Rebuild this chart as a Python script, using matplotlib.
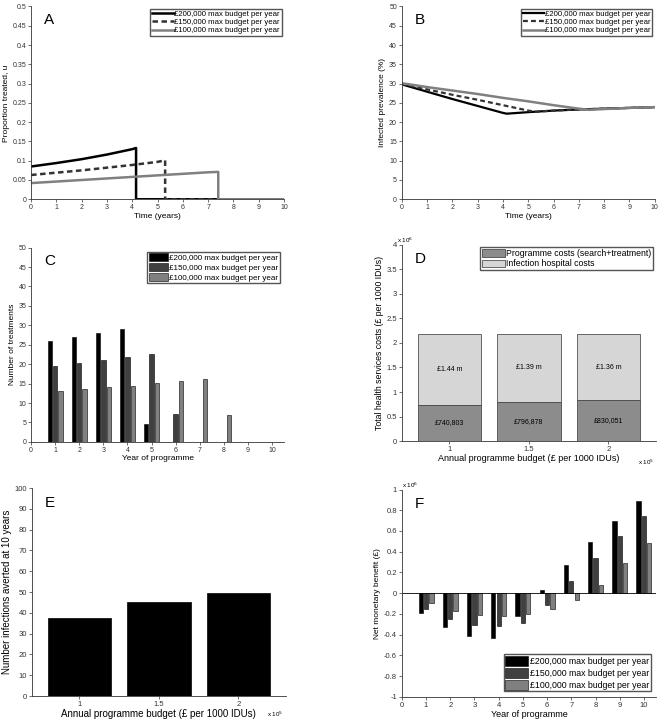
import matplotlib
matplotlib.use('Agg')
import matplotlib.pyplot as plt
import numpy as np

plt.rcParams['font.family'] = ['Liberation Sans', 'DejaVu Sans']
plt.rcParams['axes.linewidth'] = 0.6

# ---- data ----
legend_labels = ['£200,000 max budget per year', '£150,000 max budget per year',
                 '£100,000 max budget per year']

# A: proportion treated over time
a_t200 = [0, 1, 2, 3, 4, 4.15, 4.15, 10]
a_u200 = [0.085, 0.094, 0.104, 0.116, 0.130, 0.133, 0, 0]
a_t150 = [0, 1, 2, 3, 4, 5, 5.3, 5.3, 10]
a_u150 = [0.063, 0.069, 0.075, 0.082, 0.089, 0.097, 0.101, 0, 0]
a_t100 = [0, 1, 2, 3, 4, 5, 6, 7, 7.4, 7.4, 10]
a_u100 = [0.042, 0.046, 0.050, 0.054, 0.058, 0.062, 0.066, 0.070, 0.071, 0, 0]

# B: infected prevalence (%)
b_t200 = [0, 1, 2, 3, 4, 4.15, 5, 6, 7, 8, 9, 10]
b_p200 = [29.8, 27.9, 26.0, 24.2, 22.4, 22.2, 22.6, 23.0, 23.3, 23.5, 23.7, 23.9]
b_t150 = [0, 1, 2, 3, 4, 5, 5.3, 6, 7, 8, 9, 10]
b_p150 = [29.9, 28.5, 27.1, 25.8, 24.4, 23.0, 22.7, 23.0, 23.3, 23.5, 23.7, 23.9]
b_t100 = [0, 1, 2, 3, 4, 5, 6, 7, 7.4, 8, 9, 10]
b_p100 = [30.1, 29.1, 28.2, 27.3, 26.3, 25.4, 24.4, 23.5, 23.2, 23.4, 23.7, 23.9]

# C: number of treatments per programme year
years = np.arange(1, 11)
c_200 = [26, 27, 28, 29, 4.5, 0, 0, 0, 0, 0]
c_150 = [19.5, 20.3, 21, 21.8, 22.5, 7.2, 0, 0, 0, 0]
c_100 = [13.1, 13.5, 14.1, 14.5, 15.1, 15.7, 16.2, 6.8, 0, 0]

# D: total health service costs
budgets = [1e5, 1.5e5, 2e5]
d_programme = [740803, 796878, 830051]
d_hospital = [1.44e6, 1.39e6, 1.36e6]
d_prog_labels = ['£740,803', '£796,878', '£830,051']
d_hosp_labels = ['£1.44 m', '£1.39 m', '£1.36 m']

# E: infections averted at 10 years
e_averted = [37.3, 45.1, 49.6]

# F: net monetary benefit
f_200 = [-0.19e6, -0.33e6, -0.41e6, -0.43e6, -0.22e6, 0.03e6, 0.27e6, 0.49e6, 0.70e6, 0.89e6]
f_150 = [-0.15e6, -0.25e6, -0.31e6, -0.32e6, -0.29e6, -0.11e6, 0.12e6, 0.34e6, 0.55e6, 0.74e6]
f_100 = [-0.10e6, -0.17e6, -0.21e6, -0.22e6, -0.20e6, -0.15e6, -0.07e6, 0.08e6, 0.29e6, 0.48e6]

bar_colors = ['#000000', '#404040', '#808080']
TICK = 5
LAB = 6


def style(ax):
    ax.spines['top'].set_visible(False)
    ax.spines['right'].set_visible(False)
    for s in ('left', 'bottom'):
        ax.spines[s].set_color('#333333')
    ax.tick_params(labelsize=TICK, length=2, width=0.5, pad=1.5, colors='#333333')


def letter(ax, s):
    ax.text(0.05, 0.93, s, transform=ax.transAxes, fontsize=11, va='center', ha='left')


def box_legend(ax, **kw):
    opts = dict(fancybox=False, edgecolor='#555555', framealpha=1, borderpad=0.2,
                handletextpad=0.2)
    opts.update(kw)
    return ax.legend(**opts)


fig = plt.figure(figsize=(6.62, 7.22), dpi=100)
axA = fig.add_axes([0.047, 0.724, 0.382, 0.267])
axB = fig.add_axes([0.607, 0.724, 0.382, 0.267])
axC = fig.add_axes([0.047, 0.388, 0.382, 0.269])
axD = fig.add_axes([0.607, 0.389, 0.384, 0.272])
axE = fig.add_axes([0.048, 0.036, 0.384, 0.288])
axF = fig.add_axes([0.607, 0.035, 0.384, 0.287])

# ---- A ----
axA.plot(a_t200, a_u200, color='black', lw=1.8, label=legend_labels[0])
axA.plot(a_t150, a_u150, color='#333333', lw=1.8, ls=(0, (2.2, 1.4)), label=legend_labels[1])
axA.plot(a_t100, a_u100, color='#808080', lw=1.8, label=legend_labels[2])
axA.set_xlim(0, 10)
axA.set_ylim(0, 0.5)
axA.set_xticks(range(11))
axA.set_yticks(np.arange(0, 0.51, 0.05))
axA.set_yticklabels(['0', '0.05', '0.1', '0.15', '0.2', '0.25', '0.3', '0.35', '0.4', '0.45', '0.5'])
axA.set_xlabel('Time (years)', fontsize=LAB, labelpad=1)
axA.set_ylabel('Proportion treated, u', fontsize=LAB, labelpad=2)
style(axA)
letter(axA, 'A')
box_legend(axA, loc='upper right', fontsize=5.6, handlelength=2.8, borderaxespad=0.3,
           labelspacing=0.1, handletextpad=0.1)

# ---- B ----
axB.plot(b_t200, b_p200, color='black', lw=1.6, label=legend_labels[0])
axB.plot(b_t150, b_p150, color='#333333', lw=1.6, ls=(0, (2.2, 1.4)), label=legend_labels[1])
axB.plot(b_t100, b_p100, color='#808080', lw=1.8, label=legend_labels[2])
axB.set_xlim(0, 10)
axB.set_ylim(0, 50)
axB.set_xticks(range(11))
axB.set_yticks(range(0, 51, 5))
axB.set_xlabel('Time (years)', fontsize=LAB, labelpad=1)
axB.set_ylabel('Infected prevalence (%)', fontsize=LAB, labelpad=2)
style(axB)
letter(axB, 'B')
box_legend(axB, loc='upper right', fontsize=5.6, handlelength=2.8, borderaxespad=0.3,
           labelspacing=0.1, handletextpad=0.1)

# ---- C ----
w = 0.178
off = 0.222
for i, (vals, col) in enumerate(zip([c_200, c_150, c_100], bar_colors)):
    axC.bar(years + (i - 1) * off, vals, width=w, color=col, edgecolor='black',
            linewidth=0.4, label=legend_labels[i])
axC.set_xlim(0, 10.5)
axC.set_ylim(0, 50)
axC.set_xticks(range(11))
axC.set_yticks(range(0, 51, 5))
axC.set_xlabel('Year of programme', fontsize=LAB, labelpad=1)
axC.set_ylabel('Number of treatments', fontsize=LAB, labelpad=2)
style(axC)
letter(axC, 'C')
box_legend(axC, loc='upper right', fontsize=5.8, handlelength=2.3, handleheight=1.1,
           borderaxespad=0.5, labelspacing=0.15)

# ---- D ----
bw = 0.4e5
axD.bar(budgets, d_programme, width=bw, color='#8c8c8c', edgecolor='#333333',
        linewidth=0.5, label='Programme costs (search+treatment)')
axD.bar(budgets, d_hospital, width=bw, bottom=d_programme, color='#d6d6d6',
        edgecolor='#333333', linewidth=0.5, label='Infection hospital costs')
for x, p, h, pl, hl in zip(budgets, d_programme, d_hospital, d_prog_labels, d_hosp_labels):
    axD.text(x, p / 2, pl, ha='center', va='center', fontsize=5)
    axD.text(x, p + h / 2, hl, ha='center', va='center', fontsize=5)
axD.set_xlim(0.7e5, 2.3e5)
axD.set_ylim(0, 4e6)
axD.set_xticks(budgets)
axD.set_xticklabels(['1', '1.5', '2'])
axD.set_yticks(np.arange(0, 4.01e6, 0.5e6))
axD.set_yticklabels(['0', '0.5', '1', '1.5', '2', '2.5', '3', '3.5', '4'])
axD.set_xlabel('Annual programme budget (£ per 1000 IDUs)', fontsize=6.5, labelpad=1)
axD.set_ylabel('Total health services costs (£ per 1000 IDUs)', fontsize=6.3, labelpad=2)
style(axD)
axD.tick_params(labelsize=5.5)
letter(axD, 'D')
axD.text(-0.02, 1.0, r'x 10$^6$', transform=axD.transAxes, fontsize=4.5, ha='left', va='bottom')
axD.text(0.93, -0.085, r'x 10$^5$', transform=axD.transAxes, fontsize=4.5, ha='left', va='top')
box_legend(axD, loc='upper right', fontsize=6.3, handlelength=2.6, handleheight=1.0,
           borderaxespad=0.3, labelspacing=0.15)

# ---- E ----
axE.bar(budgets, e_averted, width=bw, color='black', edgecolor='black', linewidth=0.5)
axE.set_xlim(0.7e5, 2.3e5)
axE.set_ylim(0, 100)
axE.set_xticks(budgets)
axE.set_xticklabels(['1', '1.5', '2'])
axE.set_yticks(range(0, 101, 10))
axE.set_xlabel('Annual programme budget (£ per 1000 IDUs)', fontsize=7, labelpad=1)
axE.set_ylabel('Number infections averted at 10 years', fontsize=7, labelpad=2)
style(axE)
axE.tick_params(labelsize=5.5)
letter(axE, 'E')
axE.text(0.925, -0.065, r'x 10$^5$', transform=axE.transAxes, fontsize=4.5, ha='left', va='top')

# ---- F ----
for i, (vals, col) in enumerate(zip([f_200, f_150, f_100], bar_colors)):
    axF.bar(years + (i - 1) * off, vals, width=w, color=col, edgecolor='black',
            linewidth=0.4, label=legend_labels[i])
axF.axhline(0, color='black', lw=0.6)
axF.set_xlim(0, 10.5)
axF.set_ylim(-1e6, 1e6)
axF.set_xticks(range(11))
axF.set_yticks(np.arange(-1e6, 1.01e6, 0.2e6))
axF.set_yticklabels(['-1', '-0.8', '-0.6', '-0.4', '-0.2', '0', '0.2', '0.4', '0.6', '0.8', '1'])
axF.set_xlabel('Year of programme', fontsize=6.5, labelpad=1)
axF.set_ylabel('Net monetary benefit (£)', fontsize=LAB, labelpad=2)
style(axF)
axF.tick_params(labelsize=5.5)
letter(axF, 'F')
axF.text(0.0, 1.0, r'x 10$^6$', transform=axF.transAxes, fontsize=4.5, ha='left', va='bottom')
box_legend(axF, loc='lower right', fontsize=6.3, handlelength=2.6, handleheight=1.4,
           borderaxespad=0.6, labelspacing=0.2)

fig.savefig('out.png', dpi=100)
